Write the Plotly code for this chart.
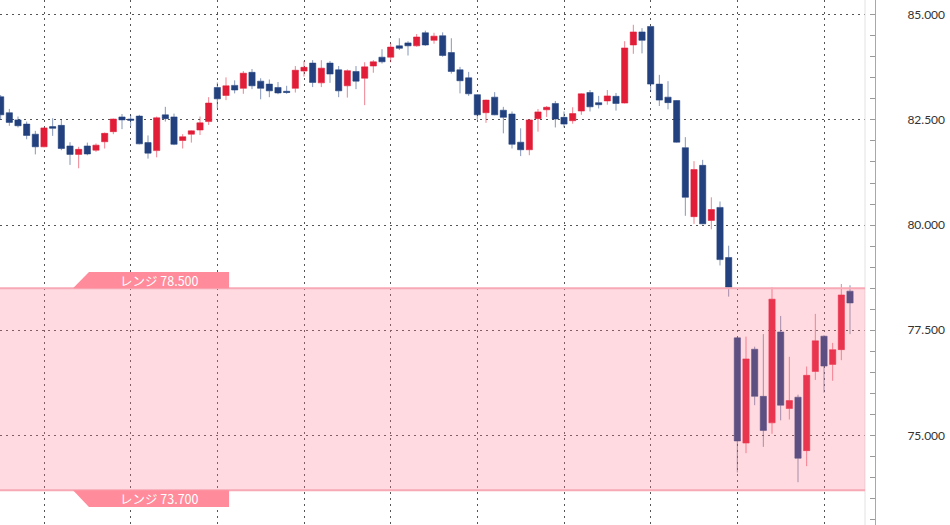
import plotly.graph_objects as go

# ---- data ----
opens = [83.05, 82.67, 82.50, 82.40, 82.16, 81.86, 82.34, 82.37, 81.88, 81.68,
         81.88, 81.78, 81.98, 82.22, 82.57, 82.52, 82.59, 81.96, 81.77, 82.62,
         82.57, 82.01, 82.16, 82.26, 82.46, 83.27, 83.08, 83.32, 83.25, 83.63,
         83.42, 83.35, 83.27, 83.18, 83.25, 83.66, 83.85, 83.38, 83.85, 83.69,
         83.31, 83.65, 83.49, 83.78, 83.99, 83.99, 84.26, 84.33, 84.26, 84.57,
         84.39, 84.50, 84.10, 83.69, 83.50, 83.10, 82.67, 83.04, 82.73, 82.64,
         81.97, 81.79, 82.53, 82.74, 82.89, 82.56, 82.48, 82.71, 83.15, 82.91,
         82.95, 83.06, 82.90, 84.28, 84.59, 84.72, 83.35, 83.04, 82.96, 81.84,
         80.20, 81.42, 80.11, 80.42, 79.23, 77.32, 74.82, 77.05, 75.93, 75.30,
         77.46, 75.64, 75.91, 74.64, 76.52, 77.36, 76.69, 77.04, 78.43]
highs = [83.09, 82.76, 82.58, 82.46, 82.24, 82.32, 82.54, 82.52, 81.97, 81.86,
         81.96, 81.94, 82.20, 82.53, 82.64, 82.62, 82.62, 82.13, 82.58, 82.81,
         82.65, 82.16, 82.25, 82.58, 83.04, 83.39, 83.51, 83.44, 83.66, 83.71,
         83.49, 83.46, 83.40, 83.31, 83.78, 83.90, 83.92, 83.92, 83.90, 83.78,
         83.70, 83.78, 83.87, 83.92, 84.18, 84.32, 84.44, 84.37, 84.54, 84.62,
         84.57, 84.58, 84.44, 83.76, 83.64, 83.11, 82.98, 83.16, 82.81, 82.70,
         82.30, 82.51, 82.76, 82.83, 82.95, 82.70, 82.80, 83.13, 83.21, 83.07,
         83.21, 83.14, 84.37, 84.76, 84.68, 84.73, 83.57, 83.42, 82.97, 82.09,
         81.52, 81.55, 80.66, 80.56, 79.51, 77.33, 77.35, 77.11, 77.41, 78.52,
         77.84, 76.87, 75.97, 76.64, 77.89, 77.38, 77.20, 78.60, 78.57]
lows = [82.50, 82.36, 82.32, 82.04, 81.68, 81.85, 82.12, 81.78, 81.43, 81.35,
        81.66, 81.74, 81.82, 82.16, 82.28, 82.35, 81.92, 81.58, 81.61, 82.46,
        81.90, 81.82, 81.96, 82.14, 82.38, 82.78, 82.97, 83.13, 83.12, 83.23,
        82.99, 83.04, 83.11, 83.12, 83.15, 83.53, 83.28, 83.28, 83.38, 83.04,
        83.03, 83.23, 82.85, 83.62, 83.84, 83.87, 84.16, 84.03, 84.24, 84.26,
        84.31, 84.00, 83.60, 83.13, 83.07, 82.50, 82.43, 82.61, 82.18, 81.82,
        81.64, 81.66, 82.22, 82.57, 82.32, 82.32, 82.41, 82.62, 82.70, 82.77,
        82.86, 82.72, 82.89, 84.07, 84.08, 83.16, 82.83, 82.75, 81.96, 80.22,
        80.03, 80.02, 79.90, 79.04, 78.30, 74.12, 74.58, 75.72, 74.73, 75.04,
        75.36, 75.38, 73.89, 74.27, 76.32, 76.02, 76.30, 76.79, 77.41]
closes = [82.62, 82.44, 82.36, 82.13, 81.86, 82.31, 82.30, 81.82, 81.68, 81.80,
          81.69, 81.90, 82.18, 82.52, 82.50, 82.49, 81.93, 81.71, 82.55, 82.53,
          81.92, 82.10, 82.24, 82.43, 82.90, 83.00, 83.31, 83.21, 83.61, 83.31,
          83.25, 83.19, 83.14, 83.15, 83.68, 83.75, 83.39, 83.73, 83.59, 83.19,
          83.67, 83.42, 83.76, 83.88, 83.88, 84.23, 84.20, 84.26, 84.47, 84.28,
          84.49, 84.03, 83.65, 83.43, 83.12, 82.62, 82.97, 82.62, 82.56, 81.92,
          81.79, 82.50, 82.69, 82.80, 82.52, 82.40, 82.65, 83.12, 82.81, 82.86,
          83.07, 82.89, 84.21, 84.59, 84.39, 83.35, 82.97, 82.91, 81.97, 80.66,
          81.32, 80.03, 80.37, 79.18, 78.52, 74.87, 76.82, 75.93, 75.12, 78.24,
          75.72, 75.83, 74.46, 76.43, 77.25, 76.65, 77.04, 78.34, 78.15]
bar_index = list(range(len(opens)))

range_high = 78.5
range_low = 73.7
range_label = "レンジ"

y_ticks = [75.0, 77.5, 80.0, 82.5, 85.0]

# ---- figure ----
UP = "#e11d38"
DOWN = "#23417e"

fig = go.Figure()
fig.add_trace(go.Candlestick(
    x=bar_index, open=opens, high=highs, low=lows, close=closes,
    increasing=dict(fillcolor=UP, line=dict(color="rgba(225,29,56,0.55)", width=1)),
    decreasing=dict(fillcolor=DOWN, line=dict(color="rgba(35,65,126,0.55)", width=1)),
    whiskerwidth=0, showlegend=False, hoverinfo="skip",
))

PLOT_RIGHT = 865 / 950
AXIS_POS = 875 / 950

grid_dash = "2px,4px"
fig.update_layout(
    width=950, height=525,
    margin=dict(l=0, r=0, t=0, b=0),
    paper_bgcolor="white", plot_bgcolor="white",
    boxgap=0.2, boxgroupgap=0.1,
    showlegend=False,
    xaxis=dict(
        domain=[0, PLOT_RIGHT], range=[-0.077, 99.73],
        rangeslider=dict(visible=False),
        showticklabels=False, ticks="",
        tick0=5, dtick=10,
        showgrid=True, gridcolor="#555555", griddash=grid_dash, gridwidth=1,
        zeroline=False, showline=False, fixedrange=True,
    ),
    yaxis=dict(
        side="right", anchor="free", position=AXIS_POS,
        range=[72.873, 85.349],
        tickvals=y_ticks, tickformat=".3f",
        ticks="inside", ticklen=5, tickcolor="#9a9a9a", tickwidth=1,
        showline=True, linecolor="#a8a8a8", linewidth=1,
        showgrid=True, gridcolor="#555555", griddash=grid_dash, gridwidth=1,
        zeroline=False,
        minor=dict(dtick=0.5, tick0=75, ticks="inside", ticklen=5,
                   tickcolor="#9a9a9a", showgrid=False),
        tickfont=dict(family="Lato, Open Sans, sans-serif", size=12, color="#333333"),
        ticklabelstandoff=29,
        fixedrange=True,
    ),
)

# faint right border of plotting area
fig.add_shape(type="line", xref="paper", yref="paper", x0=PLOT_RIGHT, x1=PLOT_RIGHT,
              y0=0, y1=1, line=dict(color="#e2e2e2", width=1), layer="above")

# range band (semi-transparent, over candles)
fig.add_shape(type="rect", xref="paper", yref="y", x0=0, x1=PLOT_RIGHT,
              y0=range_low, y1=range_high,
              fillcolor="rgba(255,118,140,0.27)", line=dict(width=0), layer="above")
for lvl in (range_high, range_low):
    fig.add_shape(type="line", xref="paper", yref="y", x0=0, x1=PLOT_RIGHT,
                  y0=lvl, y1=lvl, line=dict(color="#f7a9b5", width=2), layer="above")

# tags
TAG = "#ff8b9b"
tag_h_up = 0.387
tag_h_dn = 0.397
x_tip, x_body, x_end = 8.35, 10.19, 26.35
fig.add_shape(type="path", xref="x", yref="y",
              path=f"M {x_body},{range_high + tag_h_up} L {x_end},{range_high + tag_h_up} "
                   f"L {x_end},{range_high} L {x_tip},{range_high} Z",
              fillcolor=TAG, line=dict(width=0), layer="above")
fig.add_shape(type="path", xref="x", yref="y",
              path=f"M {x_tip},{range_low} L {x_end},{range_low} "
                   f"L {x_end},{range_low - tag_h_dn} L {x_body},{range_low - tag_h_dn} Z",
              fillcolor=TAG, line=dict(width=0), layer="above")

label_font = dict(family="Noto Sans CJK JP, Noto Sans, sans-serif", size=12.5, color="white")
x_mid = (x_body + x_end) / 2
fig.add_annotation(x=x_mid, y=range_high + tag_h_up / 2, xref="x", yref="y",
                   text=f"{range_label} {range_high:.3f}", showarrow=False,
                   font=label_font, xanchor="center", yanchor="middle")
fig.add_annotation(x=x_mid, y=range_low - tag_h_dn / 2, xref="x", yref="y",
                   text=f"{range_label} {range_low:.3f}", showarrow=False,
                   font=label_font, xanchor="center", yanchor="middle")

fig.write_html(
    "out.html",
    config={"displayModeBar": False, "staticPlot": True},
    post_script="document.body.style.margin='0';document.body.style.padding='0';"
                "document.body.style.overflow='hidden';",
)
